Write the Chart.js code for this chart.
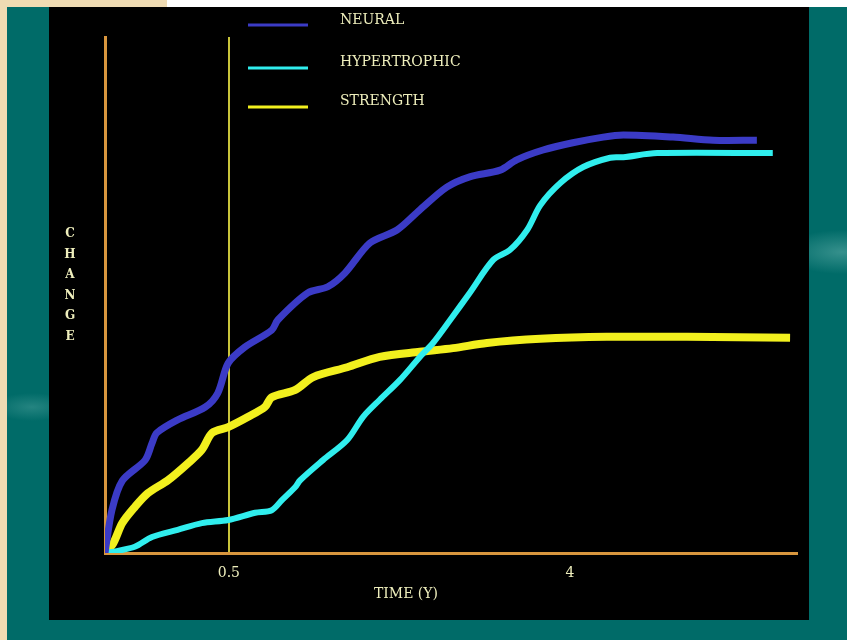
<!DOCTYPE html>
<html>
<head>
<meta charset="utf-8">
<script src="https://cdn.jsdelivr.net/npm/chart.js@4.4.1/dist/chart.umd.min.js"></script>
<style>
  html, body { margin: 0; padding: 0; }
  body { width: 847px; height: 640px; position: relative; overflow: hidden;
         background: #efdbb3; }
  #topwhite { position: absolute; left: 167px; top: 0; width: 680px; height: 7px; background: #fff; }
  #slide { position: absolute; left: 7px; top: 7px; width: 840px; height: 633px;
           background:
             radial-gradient(ellipse 60px 22px at 835px 245px, rgba(120,190,185,0.45), rgba(0,107,104,0) 100%),
             radial-gradient(ellipse 40px 14px at 25px 400px, rgba(120,190,185,0.3), rgba(0,107,104,0) 100%),
             #006b68; }
  #box { position: absolute; left: 49px; top: 7px; width: 760px; height: 613px; background: #000; }
</style>
</head>
<body>
<div id="topwhite"></div>
<div id="slide"></div>
<div id="box"><canvas id="chart" width="760" height="613"></canvas></div>
<script>
// x in arbitrary time units (0..100), y in relative change (0..100)
const neuralX = [0, 1.0, 2.5, 5.8, 6.8, 7.5, 10.5, 14.5, 16.3, 17.8, 20.2, 24.1, 25.0, 29.3, 32.2, 34.7, 38.3, 42.2, 45.5, 49.4, 52.7, 57.1, 59.5, 63.3, 67.6, 72.0, 74.9, 82.1, 87.9, 94.2];
const neuralY = [0, 8.3, 14.0, 18.0, 21.3, 23.3, 25.8, 28.3, 31.0, 36.8, 39.9, 43.2, 45.2, 50.4, 51.6, 54.3, 60.1, 62.6, 66.5, 70.9, 72.9, 74.2, 76.2, 78.1, 79.5, 80.6, 81.0, 80.6, 80.0, 80.0];

const hyperX = [0, 1.0, 4.3, 6.8, 10.5, 14.0, 17.8, 21.7, 24.1, 25.6, 27.5, 28.2, 31.5, 35.0, 37.3, 39.7, 42.6, 45.5, 47.4, 49.9, 52.7, 56.1, 58.5, 61.0, 62.9, 65.8, 69.1, 73.0, 74.9, 79.8, 96.5];
const hyperY = [0, 0.2, 1.2, 3.1, 4.5, 5.8, 6.4, 7.8, 8.3, 10.3, 12.8, 14.1, 18.0, 21.9, 26.4, 29.7, 33.5, 38.0, 40.7, 45.2, 50.4, 56.8, 58.7, 62.6, 67.4, 71.7, 74.8, 76.6, 76.7, 77.5, 77.5];

const strengthX = [0, 1.2, 2.5, 4.3, 6.2, 9.1, 12.0, 14.0, 15.5, 17.8, 20.7, 23.1, 24.1, 27.5, 30.1, 35.0, 39.7, 45.5, 50.3, 55.2, 62.9, 72.5, 84.1, 99.0];
const strengthY = [0, 1.9, 5.8, 8.9, 11.6, 14.1, 17.4, 20.0, 23.3, 24.4, 26.4, 28.3, 30.2, 31.6, 34.1, 36.0, 38.0, 39.0, 39.7, 40.7, 41.5, 41.9, 41.9, 41.7];

const seriesNames = ['NEURAL', 'HYPERTROPHIC', 'STRENGTH'];
const tickValues = [17.9, 67.2];
const tickLabels = ['0.5', '4'];
const xTitle = 'TIME (Y)';
const yTitle = 'CHANGE';

const colors = ['#3b3bc6', '#30eeee', '#f2f01e'];
const textColor = '#eeeebc';
const fontFam = '"DejaVu Serif", "Liberation Serif", serif';

const pts = (xs, ys) => xs.map((x, i) => ({ x: x, y: ys[i] }));

const decor = {
  id: 'decor',
  afterDraw(chart) {
    const ctx = chart.ctx;
    ctx.save();
    // legend: stacked entries above the plot
    ctx.font = '14px ' + fontFam;
    ctx.textBaseline = 'middle';
    const lineY = [18, 61, 100];
    const textY = [13, 55, 94];
    chart.data.datasets.forEach((ds, i) => {
      ctx.strokeStyle = ds.borderColor;
      ctx.lineWidth = 3;
      ctx.beginPath();
      ctx.moveTo(199, lineY[i]);
      ctx.lineTo(259, lineY[i]);
      ctx.stroke();
      ctx.fillStyle = textColor;
      ctx.textAlign = 'left';
      ctx.fillText(ds.label, 291, textY[i]);
    });
    // vertical stacked y title
    ctx.font = 'bold 12px ' + fontFam;
    ctx.textAlign = 'center';
    yTitle.split('').forEach((ch, i) => {
      ctx.fillText(ch, 21, 227 + i * 20.5);
    });
    // x title
    ctx.font = '14px ' + fontFam;
    ctx.fillText(xTitle, 357, 587);
    ctx.restore();
  }
};

new Chart(document.getElementById('chart'), {
  type: 'line',
  data: {
    datasets: [
      { label: seriesNames[0], data: pts(neuralX, neuralY), borderColor: colors[0], borderWidth: 7 },
      { label: seriesNames[1], data: pts(hyperX, hyperY), borderColor: colors[1], borderWidth: 6 },
      { label: seriesNames[2], data: pts(strengthX, strengthY), borderColor: colors[2], borderWidth: 8 }
    ]
  },
  options: {
    responsive: false,
    animation: false,
    events: [],
    elements: { point: { radius: 0 }, line: { tension: 0.3, fill: false } },
    layout: { padding: { left: 56, right: 12, top: 30, bottom: 0 } },
    plugins: { legend: { display: false }, tooltip: { enabled: false } },
    scales: {
      x: {
        type: 'linear',
        min: 0,
        max: 100,
        afterBuildTicks(scale) { scale.ticks = tickValues.map(v => ({ value: v })); },
        afterFit(scale) { scale.height = 67; },
        border: { display: true, color: '#d8963e', width: 3 },
        grid: {
          drawTicks: false,
          color: ctx => ctx.index === 0 ? '#c9c43a' : 'rgba(0,0,0,0)',
          lineWidth: 2
        },
        ticks: {
          autoSkip: false,
          maxRotation: 0,
          padding: 12,
          color: textColor,
          font: { family: fontFam, size: 14 },
          callback: (v, i) => tickLabels[i]
        }
      },
      y: {
        min: 0,
        max: 100,
        afterFit(scale) { scale.width = 0; },
        border: { display: true, color: '#d8963e', width: 3 },
        grid: { display: false, drawTicks: false },
        ticks: { display: false }
      }
    }
  },
  plugins: [decor]
});
</script>
</body>
</html>
